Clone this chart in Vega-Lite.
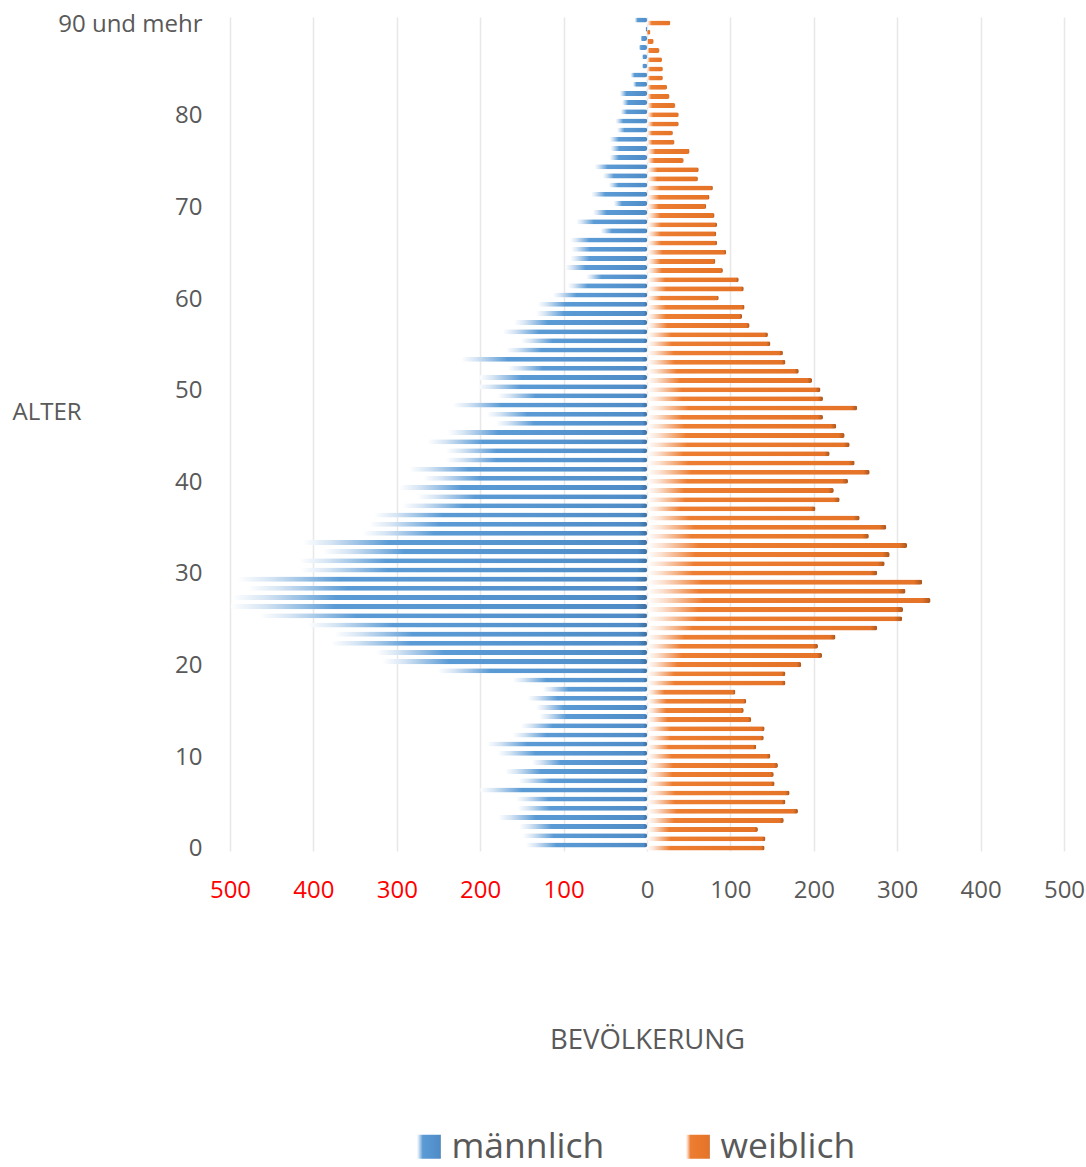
{
  "$schema": "https://vega.github.io/schema/vega-lite/v6.json",
  "width": 834,
  "height": 834,
  "autosize": "none",
  "padding": {"left": 230, "top": 17, "right": 22, "bottom": 316},
  "background": "white",
  "config": {"view": {"stroke": null}, "font": "Open Sans"},
  "resolve": {"scale": {"opacity": "independent"}, "legend": {"opacity": "independent"}},
  "data": {"values": [
    {"age":0,"sex":"männlich","value":-145},{"age":0,"sex":"weiblich","value":141},
    {"age":1,"sex":"männlich","value":-149},{"age":1,"sex":"weiblich","value":142},
    {"age":2,"sex":"männlich","value":-153},{"age":2,"sex":"weiblich","value":133},
    {"age":3,"sex":"männlich","value":-178},{"age":3,"sex":"weiblich","value":164},
    {"age":4,"sex":"männlich","value":-155},{"age":4,"sex":"weiblich","value":181},
    {"age":5,"sex":"männlich","value":-157},{"age":5,"sex":"weiblich","value":166},
    {"age":6,"sex":"männlich","value":-200},{"age":6,"sex":"weiblich","value":171},
    {"age":7,"sex":"männlich","value":-154},{"age":7,"sex":"weiblich","value":153},
    {"age":8,"sex":"männlich","value":-170},{"age":8,"sex":"weiblich","value":152},
    {"age":9,"sex":"männlich","value":-138},{"age":9,"sex":"weiblich","value":157},
    {"age":10,"sex":"männlich","value":-179},{"age":10,"sex":"weiblich","value":148},
    {"age":11,"sex":"männlich","value":-192},{"age":11,"sex":"weiblich","value":131},
    {"age":12,"sex":"männlich","value":-161},{"age":12,"sex":"weiblich","value":140},
    {"age":13,"sex":"männlich","value":-151},{"age":13,"sex":"weiblich","value":141},
    {"age":14,"sex":"männlich","value":-129},{"age":14,"sex":"weiblich","value":125},
    {"age":15,"sex":"männlich","value":-133},{"age":15,"sex":"weiblich","value":116},
    {"age":16,"sex":"männlich","value":-143},{"age":16,"sex":"weiblich","value":119},
    {"age":17,"sex":"männlich","value":-125},{"age":17,"sex":"weiblich","value":106},
    {"age":18,"sex":"männlich","value":-161},{"age":18,"sex":"weiblich","value":166},
    {"age":19,"sex":"männlich","value":-251},{"age":19,"sex":"weiblich","value":166},
    {"age":20,"sex":"männlich","value":-317},{"age":20,"sex":"weiblich","value":185},
    {"age":21,"sex":"männlich","value":-325},{"age":21,"sex":"weiblich","value":210},
    {"age":22,"sex":"männlich","value":-379},{"age":22,"sex":"weiblich","value":205},
    {"age":23,"sex":"männlich","value":-375},{"age":23,"sex":"weiblich","value":226},
    {"age":24,"sex":"männlich","value":-407},{"age":24,"sex":"weiblich","value":276},
    {"age":25,"sex":"männlich","value":-465},{"age":25,"sex":"weiblich","value":306},
    {"age":26,"sex":"männlich","value":-499},{"age":26,"sex":"weiblich","value":307},
    {"age":27,"sex":"männlich","value":-497},{"age":27,"sex":"weiblich","value":340},
    {"age":28,"sex":"männlich","value":-479},{"age":28,"sex":"weiblich","value":310},
    {"age":29,"sex":"männlich","value":-491},{"age":29,"sex":"weiblich","value":330},
    {"age":30,"sex":"männlich","value":-415},{"age":30,"sex":"weiblich","value":276},
    {"age":31,"sex":"männlich","value":-417},{"age":31,"sex":"weiblich","value":285},
    {"age":32,"sex":"männlich","value":-389},{"age":32,"sex":"weiblich","value":291},
    {"age":33,"sex":"männlich","value":-413},{"age":33,"sex":"weiblich","value":312},
    {"age":34,"sex":"männlich","value":-341},{"age":34,"sex":"weiblich","value":266},
    {"age":35,"sex":"männlich","value":-333},{"age":35,"sex":"weiblich","value":287},
    {"age":36,"sex":"männlich","value":-327},{"age":36,"sex":"weiblich","value":255},
    {"age":37,"sex":"männlich","value":-293},{"age":37,"sex":"weiblich","value":202},
    {"age":38,"sex":"männlich","value":-275},{"age":38,"sex":"weiblich","value":231},
    {"age":39,"sex":"männlich","value":-297},{"age":39,"sex":"weiblich","value":224},
    {"age":40,"sex":"männlich","value":-268},{"age":40,"sex":"weiblich","value":241},
    {"age":41,"sex":"männlich","value":-285},{"age":41,"sex":"weiblich","value":267},
    {"age":42,"sex":"männlich","value":-241},{"age":42,"sex":"weiblich","value":249},
    {"age":43,"sex":"männlich","value":-241},{"age":43,"sex":"weiblich","value":219},
    {"age":44,"sex":"männlich","value":-263},{"age":44,"sex":"weiblich","value":243},
    {"age":45,"sex":"männlich","value":-239},{"age":45,"sex":"weiblich","value":237},
    {"age":46,"sex":"männlich","value":-181},{"age":46,"sex":"weiblich","value":227},
    {"age":47,"sex":"männlich","value":-192},{"age":47,"sex":"weiblich","value":211},
    {"age":48,"sex":"männlich","value":-233},{"age":48,"sex":"weiblich","value":252},
    {"age":49,"sex":"männlich","value":-179},{"age":49,"sex":"weiblich","value":211},
    {"age":50,"sex":"männlich","value":-203},{"age":50,"sex":"weiblich","value":208},
    {"age":51,"sex":"männlich","value":-201},{"age":51,"sex":"weiblich","value":198},
    {"age":52,"sex":"männlich","value":-167},{"age":52,"sex":"weiblich","value":182},
    {"age":53,"sex":"männlich","value":-223},{"age":53,"sex":"weiblich","value":166},
    {"age":54,"sex":"männlich","value":-169},{"age":54,"sex":"weiblich","value":163},
    {"age":55,"sex":"männlich","value":-151},{"age":55,"sex":"weiblich","value":148},
    {"age":56,"sex":"männlich","value":-173},{"age":56,"sex":"weiblich","value":145},
    {"age":57,"sex":"männlich","value":-159},{"age":57,"sex":"weiblich","value":123},
    {"age":58,"sex":"männlich","value":-133},{"age":58,"sex":"weiblich","value":114},
    {"age":59,"sex":"männlich","value":-131},{"age":59,"sex":"weiblich","value":117},
    {"age":60,"sex":"männlich","value":-113},{"age":60,"sex":"weiblich","value":86},
    {"age":61,"sex":"männlich","value":-95},{"age":61,"sex":"weiblich","value":116},
    {"age":62,"sex":"männlich","value":-73},{"age":62,"sex":"weiblich","value":110},
    {"age":63,"sex":"männlich","value":-98},{"age":63,"sex":"weiblich","value":91},
    {"age":64,"sex":"männlich","value":-92},{"age":64,"sex":"weiblich","value":82},
    {"age":65,"sex":"männlich","value":-91},{"age":65,"sex":"weiblich","value":95},
    {"age":66,"sex":"männlich","value":-92},{"age":66,"sex":"weiblich","value":84},
    {"age":67,"sex":"männlich","value":-56},{"age":67,"sex":"weiblich","value":83},
    {"age":68,"sex":"männlich","value":-85},{"age":68,"sex":"weiblich","value":84},
    {"age":69,"sex":"männlich","value":-65},{"age":69,"sex":"weiblich","value":81},
    {"age":70,"sex":"männlich","value":-40},{"age":70,"sex":"weiblich","value":71},
    {"age":71,"sex":"männlich","value":-67},{"age":71,"sex":"weiblich","value":75},
    {"age":72,"sex":"männlich","value":-46},{"age":72,"sex":"weiblich","value":79},
    {"age":73,"sex":"männlich","value":-53},{"age":73,"sex":"weiblich","value":61},
    {"age":74,"sex":"männlich","value":-63},{"age":74,"sex":"weiblich","value":62},
    {"age":75,"sex":"männlich","value":-45},{"age":75,"sex":"weiblich","value":44},
    {"age":76,"sex":"männlich","value":-44},{"age":76,"sex":"weiblich","value":51},
    {"age":77,"sex":"männlich","value":-45},{"age":77,"sex":"weiblich","value":33},
    {"age":78,"sex":"männlich","value":-36},{"age":78,"sex":"weiblich","value":31},
    {"age":79,"sex":"männlich","value":-38},{"age":79,"sex":"weiblich","value":38},
    {"age":80,"sex":"männlich","value":-32},{"age":80,"sex":"weiblich","value":38},
    {"age":81,"sex":"männlich","value":-30},{"age":81,"sex":"weiblich","value":34},
    {"age":82,"sex":"männlich","value":-33},{"age":82,"sex":"weiblich","value":27},
    {"age":83,"sex":"männlich","value":-17},{"age":83,"sex":"weiblich","value":24},
    {"age":84,"sex":"männlich","value":-20},{"age":84,"sex":"weiblich","value":19},
    {"age":85,"sex":"männlich","value":-6},{"age":85,"sex":"weiblich","value":19},
    {"age":86,"sex":"männlich","value":-6},{"age":86,"sex":"weiblich","value":18},
    {"age":87,"sex":"männlich","value":-10},{"age":87,"sex":"weiblich","value":15},
    {"age":88,"sex":"männlich","value":-8},{"age":88,"sex":"weiblich","value":8},
    {"age":89,"sex":"männlich","value":-2},{"age":89,"sex":"weiblich","value":4},
    {"age":90,"sex":"männlich","value":-15},{"age":90,"sex":"weiblich","value":28}
  ]},
  "encoding": {
    "y": {
      "field": "age", "type": "ordinal", "sort": "descending",
      "scale": {"paddingInner": 0.45, "paddingOuter": 0.225},
      "title": "ALTER",
      "axis": {
        "values": [0, 10, 20, 30, 40, 50, 60, 70, 80, 90],
        "labelExpr": "datum.value == 90 ? '90 und mehr' : datum.label",
        "labelFont": "Open Sans", "labelFontSize": 24, "labelColor": "#595959",
        "labelPadding": 28, "labelOffset": 3, "ticks": false, "domain": false, "grid": false,
        "titleFont": "Open Sans", "titleFontSize": 24, "titleFontWeight": "normal", "titleColor": "#595959",
        "titleAngle": 0, "titleAlign": "left", "titleBaseline": "middle",
        "titleX": -218, "titleY": 395
      }
    },
    "x": {
      "field": "value", "type": "quantitative",
      "scale": {"domain": [-500, 500], "nice": false},
      "title": "BEVÖLKERUNG",
      "axis": {
        "values": [-500, -400, -300, -200, -100, 0, 100, 200, 300, 400, 500],
        "labelExpr": "format(abs(datum.value), 'd')",
        "labelColor": {"condition": {"test": "datum.value < 0", "value": "#ff0000"}, "value": "#595959"},
        "labelFont": "Open Sans", "labelFontSize": 24, "labelPadding": 27,
        "labelFlush": false, "labelOverlap": false,
        "ticks": false, "domain": false, "grid": true, "gridColor": "#e8e8e8", "gridWidth": 1.5,
        "titleFont": "Open Sans", "titleFontSize": 27.5, "titleFontWeight": "normal", "titleColor": "#595959",
        "titleBaseline": "middle", "titleY": 189
      }
    }
  },
  "layer": [
    {
      "transform": [{"filter": "datum.sex === 'männlich'"}],
      "mark": {
        "type": "bar", "yOffset": -1.5, "cornerRadius": 2,
        "fill": {"gradient": "linear", "x1": 0, "y1": 0, "x2": 1, "y2": 0, "stops": [
          {"offset": 0, "color": "#ffffff"},
          {"offset": 0.08, "color": "#d6e5f4"},
          {"offset": 0.25, "color": "#5b9bd5"},
          {"offset": 0.97, "color": "#4f8cc7"},
          {"offset": 1, "color": "#3d6f9f"}
        ]}
      },
      "encoding": {
        "opacity": {
          "field": "sex", "type": "ordinal",
          "scale": {"domain": ["männlich"], "range": [1, 1]},
          "legend": {
            "title": null, "orient": "none", "direction": "horizontal",
            "legendX": 181, "legendY": 1112, "padding": 0,
            "symbolType": "square", "symbolSize": 576, "symbolStrokeWidth": 0, "symbolOpacity": 1,
            "labelFont": "Open Sans", "labelFontSize": 35.5, "labelColor": "#595959",
            "labelOffset": 5
          }
        }
      }
    },
    {
      "transform": [{"filter": "datum.sex === 'weiblich'"}],
      "mark": {
        "type": "bar", "yOffset": 1.5, "cornerRadius": 2,
        "fill": {"gradient": "linear", "x1": 0, "y1": 0, "x2": 1, "y2": 0, "stops": [
          {"offset": 0, "color": "#ffffff"},
          {"offset": 0.06, "color": "#fbe0cf"},
          {"offset": 0.2, "color": "#ed7d31"},
          {"offset": 0.97, "color": "#e57428"},
          {"offset": 1, "color": "#a9561f"}
        ]}
      },
      "encoding": {
        "opacity": {
          "field": "sex", "type": "ordinal",
          "scale": {"domain": ["weiblich"], "range": [1, 1]},
          "legend": {
            "title": null, "orient": "none", "direction": "horizontal",
            "legendX": 450, "legendY": 1112, "padding": 0,
            "symbolType": "square", "symbolSize": 576, "symbolStrokeWidth": 0, "symbolOpacity": 1,
            "labelFont": "Open Sans", "labelFontSize": 35.5, "labelColor": "#595959",
            "labelOffset": 5
          }
        }
      }
    }
  ]
}
